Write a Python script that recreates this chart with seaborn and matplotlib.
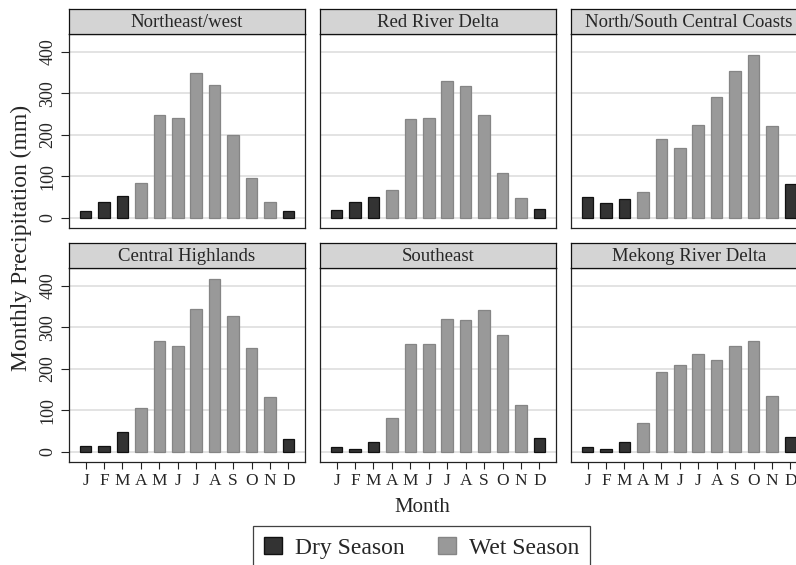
import numpy as np
import pandas as pd
import matplotlib
matplotlib.use("Agg")
import matplotlib.pyplot as plt
import seaborn as sns
from matplotlib.patches import Patch

months = ["J", "F", "M", "A", "M", "J", "J", "A", "S", "O", "N", "D"]
season = ["Dry Season", "Dry Season", "Dry Season", "Wet Season", "Wet Season", "Wet Season",
          "Wet Season", "Wet Season", "Wet Season", "Wet Season", "Wet Season", "Dry Season"]
regions = ["Northeast/west", "Red River Delta", "North/South Central Coasts",
           "Central Highlands", "Southeast", "Mekong River Delta"]

northeast_west = [17, 38, 51, 83, 248, 241, 348, 320, 199, 95, 38, 17]
red_river_delta = [18, 38, 50, 67, 238, 240, 329, 317, 247, 108, 47, 21]
central_coasts = [50, 35, 44, 61, 190, 168, 224, 291, 353, 393, 222, 81]
central_highlands = [14, 14, 48, 106, 266, 256, 344, 417, 328, 251, 131, 30]
southeast = [10, 7, 23, 82, 260, 260, 320, 317, 341, 282, 113, 34]
mekong_delta = [11, 6, 24, 68, 193, 210, 235, 220, 255, 268, 135, 36]

values = [northeast_west, red_river_delta, central_coasts,
          central_highlands, southeast, mekong_delta]

rows = []
for reg, vals in zip(regions, values):
    for i, v in enumerate(vals):
        rows.append({"region": reg, "month": i, "precip": v, "season": season[i]})
df = pd.DataFrame(rows)

sns.set_theme(style="white")
plt.rcParams["font.family"] = ["Liberation Serif", "DejaVu Serif"]

W, H = 796, 565
fig = plt.figure(figsize=(W / 100, H / 100), dpi=100)


def rect(left, top, width, height):
    return [left / W, 1 - (top + height) / H, width / W, height / H]


palette = {"Dry Season": "#333333", "Wet Season": "#999999"}
edges = {"Dry Season": "#111111", "Wet Season": "#858585"}

col_left = [69, 320, 571]
row_top = [34, 268]
pw, ph = 236, 194
strip_h = 25

for k, reg in enumerate(regions):
    r, c = divmod(k, 3)
    ax = fig.add_axes(rect(col_left[c], row_top[r], pw, ph))
    sub = df[df.region == reg]
    sns.barplot(data=sub, x="month", y="precip", hue="season", palette=palette,
                dodge=False, width=0.63, ax=ax, legend=False, saturation=1,
                hue_order=["Dry Season", "Wet Season"])
    for p in ax.patches:
        fc = matplotlib.colors.to_hex(p.get_facecolor())
        p.set_edgecolor("#111111" if fc == "#333333" else "#858585")
        p.set_linewidth(0.9)
    ax.set_xlim(-0.9, 11.9)
    ax.set_ylim(-25, 443)
    ax.set_yticks([0, 100, 200, 300, 400])
    ax.yaxis.grid(True, color="#e3e3e3", lw=1.4)
    ax.set_axisbelow(True)
    for s in ax.spines.values():
        s.set_color("#222222")
        s.set_linewidth(0.9)
    ax.set_xlabel("")
    ax.set_ylabel("")
    ax.set_xticks(range(12))
    if r == 1:
        ax.set_xticklabels(months)
        ax.tick_params(axis="x", bottom=True, length=5, width=0.8, color="#222222",
                       labelsize=12.5, pad=3)
    else:
        ax.set_xticklabels([])
        ax.tick_params(axis="x", bottom=False)
    if c == 0:
        ax.tick_params(axis="y", left=True, length=6, width=0.8, color="#222222",
                       labelsize=13, pad=3)
        for lab in ax.get_yticklabels():
            lab.set_rotation(90)
            lab.set_va("center")
    else:
        ax.set_yticklabels([])
        ax.tick_params(axis="y", left=False)

    # strip header
    sax = fig.add_axes(rect(col_left[c], row_top[r] - strip_h, pw, strip_h))
    sax.set_facecolor("#d4d4d4")
    sax.set_xticks([])
    sax.set_yticks([])
    for s in sax.spines.values():
        s.set_color("#111111")
        s.set_linewidth(0.9)
    sax.text(0.5, 0.47, reg, ha="center", va="center", fontsize=13.5,
             transform=sax.transAxes)

fig.text(21 / W, 1 - 238 / H, "Monthly Precipitation (mm)", rotation=90,
         ha="center", va="center", fontsize=17)
fig.text(422 / W, 1 - 508 / H, "Month", ha="center", va="center", fontsize=15)

handles = [Patch(facecolor=palette[s], edgecolor=edges[s], label=s)
           for s in ["Dry Season", "Wet Season"]]
leg = fig.legend(handles=handles, loc="upper left",
                 bbox_to_anchor=(253 / W, 1 - 526 / H), ncol=2, fontsize=17,
                 frameon=True, fancybox=False, edgecolor="#111111",
                 handlelength=0.76, handleheight=0.76, handletextpad=0.55,
                 columnspacing=1.45, borderpad=0.45, borderaxespad=0)
leg.get_frame().set_linewidth(0.9)

fig.savefig("out.png", dpi=100)
